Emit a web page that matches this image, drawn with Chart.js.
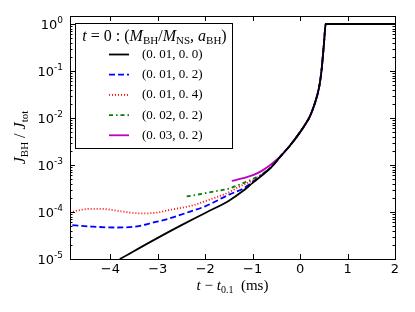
<!DOCTYPE html>
<html>
<head>
<meta charset="utf-8">
<script src="https://cdn.jsdelivr.net/npm/chart.js@4/dist/chart.umd.min.js"></script>
<style>
html,body{margin:0;padding:0;background:#fff;}
#c{display:block;}
</style>
</head>
<body>
<canvas id="c" width="415" height="312"></canvas>
<script>
// ---- data ----
const xTicks = [-4, -3, -2, -1, 0, 1, 2];
const xTickLabels = ['\u22124', '\u22123', '\u22122', '\u22121', '0', '1', '2'];
const yDecades = [1e-5, 1e-4, 1e-3, 1e-2, 1e-1, 1];
const yDecadeExps = ['-5', '-4', '-3', '-2', '-1', '0'];

// shared tail after all curves merge
const tailT = [-0.4, -0.2, 0.0, 0.1, 0.2, 0.3, 0.4, 0.45, 0.5, 0.54, 2.0];
const tailJ = [1.58e-3, 2.69e-3, 5.01e-3, 7.08e-3, 1.05e-2, 1.91e-2, 4.47e-2, 0.1, 0.355, 1.0, 1.0];

const blackT = [-3.8, -3.0, -2.5, -2.0, -1.5, -1.2, -1.0, -0.8, -0.6];
const blackJ = [1.0e-5, 2.82e-5, 5.25e-5, 9.55e-5, 1.74e-4, 2.82e-4, 4.17e-4, 6.03e-4, 9.12e-4];

const blueT = [-4.8, -4.4, -3.9, -3.4, -3.16, -2.8, -2.32, -2.0, -1.5, -1.2, -1.0, -0.8, -0.6];
const blueJ = [5.25e-5, 4.9e-5, 4.68e-5, 5.01e-5, 5.75e-5, 7.08e-5, 1.02e-4, 1.32e-4, 2.34e-4, 3.16e-4, 4.37e-4, 6.17e-4, 9.12e-4];

const redT = [-4.85, -4.6, -4.36, -4.1, -3.87, -3.6, -3.31, -3.0, -2.82, -2.5, -2.26, -2.0, -1.5, -1.26, -1.0, -0.8, -0.6];
const redJ = [9.77e-5, 1.12e-4, 1.17e-4, 1.15e-4, 1.07e-4, 9.77e-5, 9.33e-5, 9.77e-5, 1.07e-4, 1.23e-4, 1.38e-4, 1.70e-4, 2.63e-4, 3.55e-4, 4.68e-4, 6.31e-4, 9.3e-4];

const greenT = [-2.39, -2.0, -1.8, -1.5, -1.26, -1.0, -0.8, -0.6];
const greenJ = [2.14e-4, 2.51e-4, 2.75e-4, 3.16e-4, 3.89e-4, 5.01e-4, 6.46e-4, 9.4e-4];

const magentaT = [-1.44, -1.2, -0.98, -0.8, -0.63];
const magentaJ = [4.57e-4, 5.25e-4, 6.17e-4, 7.59e-4, 1.0e-3];

const seriesLabels = ['(0. 01, 0. 0)', '(0. 01, 0. 2)', '(0. 01, 0. 4)', '(0. 02, 0. 2)', '(0. 03, 0. 2)'];

// ---- build ----
function pts(t, j) {
  const a = t.map((v, i) => ({x: v, y: j[i]}));
  return a.concat(tailT.map((v, i) => ({x: v, y: tailJ[i]})));
}
const styles = [
  {color: '#000000', dash: []},
  {color: '#0000ff', dash: [6, 3]},
  {color: '#ff0000', dash: [1, 2]},
  {color: '#007f00', dash: [4, 3, 1.5, 3]},
  {color: '#bf00bf', dash: []}
];
const rawSeries = [[blackT, blackJ], [blueT, blueJ], [redT, redJ], [greenT, greenJ], [magentaT, magentaJ]];
const datasets = rawSeries.map((s, i) => ({
  label: seriesLabels[i],
  data: pts(s[0], s[1]),
  borderColor: styles[i].color,
  borderDash: styles[i].dash,
  borderWidth: 1.8,
  pointRadius: 0,
  cubicInterpolationMode: 'monotone',
  fill: false
}));

const SERIF = '"Liberation Serif", "DejaVu Serif", serif';
const SANS = '"DejaVu Sans", sans-serif';

function richWidth(ctx, parts) {
  let w = 0;
  for (const p of parts) { ctx.font = p.f; w += ctx.measureText(p.t).width; }
  return w;
}
function drawRich(ctx, parts, x, y, align) {
  const w = richWidth(ctx, parts);
  let cx = align === 'center' ? x - w / 2 : (align === 'right' ? x - w : x);
  ctx.textAlign = 'left';
  ctx.textBaseline = 'alphabetic';
  for (const p of parts) {
    ctx.font = p.f;
    ctx.fillText(p.t, cx, y + (p.dy || 0));
    cx += ctx.measureText(p.t).width;
  }
}
const I15 = 'italic 15px ' + SERIF, R15 = '15px ' + SERIF, S10 = '10px ' + SERIF;
const I16 = 'italic 16px ' + SERIF, R16 = '16px ' + SERIF, S11 = '11px ' + SERIF;

const decor = {
  id: 'decor',
  afterDatasetsDraw(chart) {
    const ctx = chart.ctx;
    const xs = chart.scales.x, ys = chart.scales.y;
    const a = chart.chartArea;
    ctx.save();
    ctx.strokeStyle = '#000';
    ctx.fillStyle = '#000';
    ctx.lineWidth = 1;
    // frame
    ctx.strokeRect(Math.round(a.left) + 0.5, Math.round(a.top) + 0.5, Math.round(a.right - a.left), Math.round(a.bottom - a.top));
    // x ticks (inward, bottom & top)
    ctx.beginPath();
    xTicks.forEach(v => {
      const px = Math.round(xs.getPixelForValue(v)) + 0.5;
      ctx.moveTo(px, a.bottom); ctx.lineTo(px, a.bottom - 5);
      ctx.moveTo(px, a.top); ctx.lineTo(px, a.top + 5);
    });
    // y ticks major + minor
    yDecades.forEach((d, i) => {
      const py = Math.round(ys.getPixelForValue(d)) + 0.5;
      ctx.moveTo(a.left, py); ctx.lineTo(a.left + 5, py);
      ctx.moveTo(a.right, py); ctx.lineTo(a.right - 5, py);
      for (let k = 2; k <= 9; k++) {
        const v = d * k;
        if (v > ys.max) break;
        const pm = Math.round(ys.getPixelForValue(v)) + 0.5;
        ctx.moveTo(a.left, pm); ctx.lineTo(a.left + 2.5, pm);
        ctx.moveTo(a.right, pm); ctx.lineTo(a.right - 2.5, pm);
      }
    });
    ctx.stroke();
    // x tick labels
    ctx.font = '13px ' + SANS;
    ctx.textAlign = 'center';
    ctx.textBaseline = 'top';
    xTicks.forEach((v, i) => {
      ctx.fillText(xTickLabels[i], xs.getPixelForValue(v), a.bottom + 4);
    });
    // y tick labels 10^n
    yDecades.forEach((d, i) => {
      const py = ys.getPixelForValue(d);
      drawRich(ctx, [
        {t: '10', f: '13px ' + SANS},
        {t: yDecadeExps[i], f: '9px ' + SANS, dy: -6}
      ], a.left - 7, py + 5, 'right');
    });
    // x axis label
    drawRich(ctx, [
      {t: 't', f: I15}, {t: ' \u2212 ', f: R15}, {t: 't', f: I15},
      {t: '0.1', f: S10, dy: 3}, {t: '  (ms)', f: R15}
    ], (a.left + a.right) / 2, 290, 'center');
    // y axis label (rotated)
    ctx.save();
    ctx.translate(25, (a.top + a.bottom) / 2);
    ctx.rotate(-Math.PI / 2);
    drawRich(ctx, [
      {t: 'J', f: I16}, {t: 'BH', f: S11, dy: 3}, {t: ' / ', f: R16},
      {t: 'J', f: I16}, {t: 'tot', f: S11, dy: 3}
    ], 0, 0, 'center');
    ctx.restore();

    // legend
    const lx = 75, ly = 23, lw = 157, lh = 125;
    ctx.fillStyle = '#fff';
    ctx.fillRect(lx, ly, lw, lh);
    ctx.strokeStyle = '#000';
    ctx.lineWidth = 1;
    ctx.strokeRect(lx + 0.5, ly + 0.5, lw, lh);
    ctx.fillStyle = '#000';
    drawRich(ctx, [
      {t: 't', f: I16}, {t: ' = 0 : (', f: R16}, {t: 'M', f: I16}, {t: 'BH', f: S11, dy: 3},
      {t: '/', f: R16}, {t: 'M', f: I16}, {t: 'NS', f: S11, dy: 3}, {t: ', ', f: R16},
      {t: 'a', f: I16}, {t: 'BH', f: S11, dy: 3}, {t: ')', f: R16}
    ], lx + lw / 2 + 1, 41, 'center');
    chart.data.datasets.forEach((ds, i) => {
      const yy = 54.5 + i * 20.2;
      ctx.save();
      ctx.strokeStyle = ds.borderColor;
      ctx.lineWidth = ds.borderWidth;
      ctx.setLineDash(ds.borderDash || []);
      ctx.beginPath();
      ctx.moveTo(109, yy); ctx.lineTo(129, yy);
      ctx.stroke();
      ctx.restore();
      ctx.font = '13px ' + SERIF;
      ctx.textAlign = 'left';
      ctx.textBaseline = 'middle';
      ctx.fillText(ds.label, 142, yy);
    });
    ctx.restore();
  }
};

new Chart(document.getElementById('c'), {
  type: 'line',
  data: {datasets: datasets},
  options: {
    responsive: false,
    animation: false,
    devicePixelRatio: 1,
    layout: {padding: {left: 70, right: 20, top: 16, bottom: 53}},
    plugins: {legend: {display: false}, tooltip: {enabled: false}},
    scales: {
      x: {type: 'linear', min: -4.85, max: 2, display: false},
      y: {type: 'logarithmic', min: 1e-5, max: 1.48, display: false}
    }
  },
  plugins: [decor]
});
</script>
</body>
</html>
